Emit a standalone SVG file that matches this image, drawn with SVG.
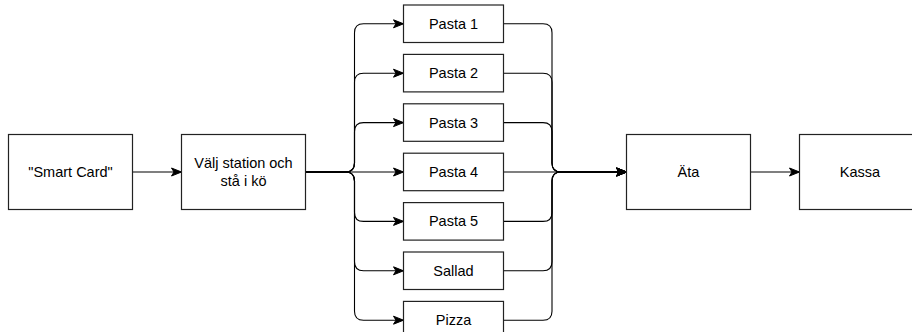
<svg xmlns="http://www.w3.org/2000/svg" width="912" height="332" viewBox="0 0 912 332">
  <style>
    .box { fill: #ffffff; stroke: #222222; stroke-width: 1.2; }
    .lbl { font-family: "Liberation Sans", Arial, Helvetica, sans-serif; font-size: 14.5px; fill: #000000; text-anchor: middle; }
    .edge { fill: none; stroke: #000000; stroke-width: 1.1; marker-end: url(#arrow); }
    .join { fill: none; stroke: #000000; stroke-width: 1.1; }
  </style>
  <defs>
    <marker id="arrow" markerUnits="userSpaceOnUse" markerWidth="12" markerHeight="10" viewBox="0 0 12 10" refX="11" refY="5" orient="auto">
      <path d="M1,1 L11,5 L1,9 L3.5,5 Z" fill="#000000" stroke="#000000" stroke-width="1"/>
    </marker>
  </defs>
  <rect width="912" height="332" fill="#ffffff"/>

  <!-- connectors -->
  <g id="connectors">
    <path class="edge" d="M132.5,172 L181.5,172"/>

    <!-- fan out from station choice to each counter -->
    <path class="edge" d="M305.5,172 L345.5,172 Q354.5,172 354.5,163 L354.5,32.8 Q354.5,23.8 363.5,23.8 L403.5,23.8"/>
    <path class="edge" d="M305.5,172 L345.5,172 Q354.5,172 354.5,163 L354.5,82.2 Q354.5,73.2 363.5,73.2 L403.5,73.2"/>
    <path class="edge" d="M305.5,172 L345.5,172 Q354.5,172 354.5,163 L354.5,131.6 Q354.5,122.6 363.5,122.6 L403.5,122.6"/>
    <path class="edge" d="M305.5,172 L403.5,172"/>
    <path class="edge" d="M305.5,172 L345.5,172 Q354.5,172 354.5,181 L354.5,212.4 Q354.5,221.4 363.5,221.4 L403.5,221.4"/>
    <path class="edge" d="M305.5,172 L345.5,172 Q354.5,172 354.5,181 L354.5,261.8 Q354.5,270.8 363.5,270.8 L403.5,270.8"/>
    <path class="edge" d="M305.5,172 L345.5,172 Q354.5,172 354.5,181 L354.5,311.2 Q354.5,320.2 363.5,320.2 L403.5,320.2"/>

    <!-- merge from each counter to eating -->
    <path class="edge" d="M503.5,23.8 L543,23.8 Q552,23.8 552,32.8 L552,163 Q552,172 561,172 L626.5,172"/>
    <path class="edge" d="M503.5,73.2 L543,73.2 Q552,73.2 552,82.2 L552,163 Q552,172 561,172 L626.5,172"/>
    <path class="edge" d="M503.5,122.6 L543,122.6 Q552,122.6 552,131.6 L552,163 Q552,172 561,172 L626.5,172"/>
    <path class="edge" d="M503.5,172 L626.5,172"/>
    <path class="edge" d="M503.5,221.4 L543,221.4 Q552,221.4 552,212.4 L552,181 Q552,172 561,172 L626.5,172"/>
    <path class="edge" d="M503.5,270.8 L543,270.8 Q552,270.8 552,261.8 L552,181 Q552,172 561,172 L626.5,172"/>
    <path class="edge" d="M503.5,320.2 L543,320.2 Q552,320.2 552,311.2 L552,181 Q552,172 561,172 L626.5,172"/>

    <path class="edge" d="M750,172 L799.5,172"/>
  </g>

  <!-- nodes -->
  <g id="smart-card">
    <rect class="box" x="8.5" y="134.5" width="124" height="75"/>
    <text class="lbl" x="70.5" y="177">"Smart Card"</text>
  </g>
  <g id="choose-station">
    <rect class="box" x="181.5" y="134.5" width="124" height="75"/>
    <text class="lbl" x="243.5" y="168">Välj station och</text>
    <text class="lbl" x="243.5" y="186">stå i kö</text>
  </g>

  <g id="pasta-1">
    <rect class="box" x="403.5" y="5" width="100" height="37.5"/>
    <text class="lbl" x="453.5" y="28.8">Pasta 1</text>
  </g>
  <g id="pasta-2">
    <rect class="box" x="403.5" y="54.4" width="100" height="37.5"/>
    <text class="lbl" x="453.5" y="78.2">Pasta 2</text>
  </g>
  <g id="pasta-3">
    <rect class="box" x="403.5" y="103.8" width="100" height="37.5"/>
    <text class="lbl" x="453.5" y="127.6">Pasta 3</text>
  </g>
  <g id="pasta-4">
    <rect class="box" x="403.5" y="153.2" width="100" height="37.5"/>
    <text class="lbl" x="453.5" y="177">Pasta 4</text>
  </g>
  <g id="pasta-5">
    <rect class="box" x="403.5" y="202.6" width="100" height="37.5"/>
    <text class="lbl" x="453.5" y="226.4">Pasta 5</text>
  </g>
  <g id="sallad">
    <rect class="box" x="403.5" y="252" width="100" height="37.5"/>
    <text class="lbl" x="453.5" y="275.8">Sallad</text>
  </g>
  <g id="pizza">
    <rect class="box" x="403.5" y="301.4" width="100" height="37.5"/>
    <text class="lbl" x="453.5" y="325.2">Pizza</text>
  </g>

  <g id="ata">
    <rect class="box" x="626.5" y="134.5" width="124" height="75"/>
    <text class="lbl" x="688.5" y="177">Äta</text>
  </g>
  <g id="kassa">
    <rect class="box" x="799.5" y="134.5" width="124" height="75"/>
    <text class="lbl" x="860" y="177">Kassa</text>
  </g>
</svg>
